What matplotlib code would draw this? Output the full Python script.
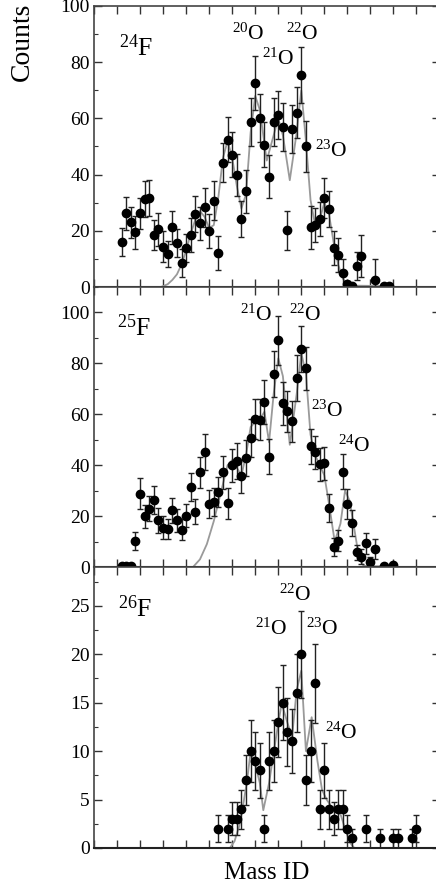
import matplotlib
matplotlib.use("Agg")
import matplotlib.pyplot as plt
from matplotlib.ticker import MultipleLocator, NullFormatter

plt.rcParams['font.family'] = ['Liberation Serif', 'DejaVu Serif']
plt.rcParams['mathtext.fontset'] = 'custom'
plt.rcParams['mathtext.rm'] = 'Liberation Serif'
plt.rcParams['mathtext.it'] = 'Liberation Serif:italic'

# ---- 24F ----
p1_x = [14.2, 14.4, 14.6, 14.8, 15.0, 15.2, 15.4, 15.6, 15.8, 16.0, 16.2, 16.4, 16.6, 16.8,
        17.0, 17.2, 17.4, 17.6, 17.8, 18.0, 18.2, 18.4, 18.6, 18.8, 19.0, 19.2, 19.4, 19.6,
        19.8, 20.0, 20.2, 20.4, 20.6, 20.8, 21.0, 21.2, 21.4, 21.6, 21.8, 22.0, 22.2, 22.4,
        22.6, 22.8, 23.0, 23.2, 23.4, 23.6, 23.8, 24.0, 24.2, 24.4, 24.6, 25.2, 25.6, 25.8]
p1_y = [16.1, 26.2, 23.0, 19.4, 26.2, 31.3, 31.7, 18.5, 20.5, 14.4, 11.7, 21.2, 15.6, 8.5,
        14.0, 18.5, 26.0, 22.6, 28.3, 20.0, 30.7, 12.0, 44.2, 52.4, 47.1, 40.0, 24.2, 34.0,
        58.7, 72.6, 60.1, 50.7, 39.3, 58.7, 61.3, 56.9, 20.2, 56.3, 62.0, 75.4, 50.1, 21.2,
        22.0, 24.2, 31.7, 27.7, 13.8, 11.4, 5.1, 1.0, 0.4, 7.5, 11.1, 2.5, 0.4, 0.5]
p1_e = [5, 6, 5.5, 6, 5.5, 6.5, 6.5, 5.5, 6, 5.5, 4.5, 6, 5, 5,
        5, 6, 6.5, 6, 7, 6, 7, 6, 7, 8, 8, 7.5, 6.5, 7.5,
        8.5, 9.5, 8.5, 8, 7.5, 8.5, 8.5, 8.5, 7, 8.5, 9, 10, 9, 7.5,
        6, 6, 7, 6.5, 6, 6, 5, 1, 0.4, 5, 7.5, 7.5, 0.4, 0.4]
p1_fx = [15.9, 16.0, 16.2, 16.4, 16.6, 16.8, 17.0, 17.2, 17.4, 17.6, 17.8, 18.0, 18.2, 18.4,
         18.6, 18.8, 19.0, 19.2, 19.4, 19.6, 19.8, 20.0, 20.2, 20.5, 20.8, 21.0, 21.2, 21.5,
         21.8, 22.0, 22.2, 22.4, 22.6, 22.8, 23.0, 23.2, 23.4, 23.6, 23.8, 24.0, 24.2, 25.0, 25.6]
p1_fy = [0, 0.3, 1, 2.5, 4.5, 8, 13, 19, 24, 27, 25, 21, 22, 32,
         46, 52, 46, 36, 28, 33, 55, 68, 63, 45, 54, 60, 54, 38,
         55, 70, 52, 31, 22, 24, 30, 26, 16, 8, 3, 1, 0.5, 0.4, 0.3]

# ---- 25F ----
p2_x = [14.2, 14.4, 14.6, 14.8, 15.0, 15.2, 15.4, 15.6, 15.8, 16.0, 16.2, 16.4, 16.6, 16.8,
        17.0, 17.2, 17.4, 17.6, 17.8, 18.0, 18.2, 18.4, 18.6, 18.8, 19.0, 19.2, 19.4, 19.6,
        19.8, 20.0, 20.2, 20.4, 20.6, 20.8, 21.0, 21.2, 21.4, 21.6, 21.8, 22.0, 22.2, 22.4,
        22.6, 22.8, 23.0, 23.2, 23.4, 23.6, 23.8, 24.0, 24.2, 24.4, 24.6, 24.8, 25.0, 25.2,
        25.6, 26.0]
p2_y = [0.4, 0.4, 0.4, 10.2, 28.8, 20.0, 22.9, 26.4, 18.3, 15.4, 15.0, 22.2, 18.3, 14.7,
        20.2, 31.3, 21.7, 37.2, 45.2, 24.9, 25.5, 29.4, 37.3, 25.0, 39.9, 41.7, 35.6, 42.8,
        50.7, 58.1, 57.9, 64.8, 43.4, 75.9, 89.0, 64.3, 61.1, 57.2, 74.3, 85.7, 78.0, 47.4,
        45.0, 40.4, 40.8, 23.1, 7.8, 10.4, 37.5, 24.7, 17.2, 5.8, 4.1, 9.3, 1.9, 7.1,
        0.5, 0.7]
p2_e = [0.3, 0.3, 0.3, 3.5, 6, 4.5, 5, 5.5, 5, 4.5, 4, 5, 4.5, 4,
        4.5, 5.5, 5, 6, 7, 5.5, 5.5, 6, 6.5, 6, 6.5, 7, 6.5, 7,
        7.5, 8, 8, 8.5, 7, 9, 9.7, 8.5, 8, 8, 9, 9, 8.5, 7,
        6.5, 6.5, 6.5, 5.5, 3.5, 4, 7, 6, 5, 3, 3, 4, 2, 4,
        0.5, 0.5]
p2_fx = [17.3, 17.6, 17.9, 18.2, 18.5, 18.8, 19.0, 19.2, 19.4, 19.6, 19.8, 20.0, 20.2, 20.4,
         20.6, 20.8, 21.0, 21.2, 21.5, 21.8, 22.0, 22.2, 22.4, 22.6, 22.8, 23.0, 23.2, 23.45,
         23.7, 23.9, 24.1, 24.3, 24.5, 24.7, 25.0, 26.0]
p2_fy = [0, 3, 9, 18, 29, 40, 42, 39, 36, 44, 55, 57, 58, 61,
         49, 68, 82, 75, 48, 68, 84, 76, 52, 44, 40, 36, 25, 10,
         17, 30, 26, 15, 4, 0.5, 0.3, 0.3]

# ---- 26F ----
p3_x = [18.4, 18.8, 19.0, 19.2, 19.4, 19.6, 19.8, 20.0, 20.2, 20.4, 20.6, 20.8, 21.0, 21.2,
        21.4, 21.6, 21.8, 22.0, 22.2, 22.4, 22.6, 22.8, 23.0, 23.2, 23.4, 23.6, 23.8, 24.0,
        24.2, 24.8, 25.4, 26.0, 26.2, 26.8, 27.0]
p3_y = [2, 2, 3, 3, 4, 7, 10, 9, 8, 2, 9, 10, 13, 15,
        12, 11, 16, 20, 7, 10, 17, 4, 8, 4, 3, 4, 4, 2,
        1, 2, 1, 1, 1, 1, 2]
p3_e = [1.4, 1.4, 1.7, 1.7, 2, 2.6, 3.2, 3, 2.8, 1.4, 3, 3.2, 3.6, 3.9,
        3.5, 3.3, 4, 4.5, 2.6, 3.2, 4.1, 2, 2.8, 2, 1.7, 2, 2, 1.4,
        1, 1.4, 1, 1, 1, 1, 1.4]
p3_fx = [18.9, 19.1, 19.3, 19.5, 19.65, 19.8, 20.0, 20.2, 20.35, 20.6, 20.8, 21.0, 21.15, 21.4,
         21.6, 21.8, 22.0, 22.2, 22.45, 22.7, 22.9, 23.1, 23.3, 23.5, 23.7, 23.9, 24.1, 24.3]
p3_fy = [0, 0.7, 2.2, 4.8, 7, 10, 8.7, 6.7, 3.9, 6.7, 9.8, 12.9, 14.9, 12.9,
         11.5, 16.3, 18.3, 10, 13.5, 9, 6, 5, 4.3, 4.2, 3.5, 2, 0.6, 0]

panels = [
    dict(x=p1_x, y=p1_y, e=p1_e, fx=p1_fx, fy=p1_fy, ymax=100, major=20, minor=10,
         nucleus=(r'$^{24}$F', 14.1, 82.2),
         peaks=[(r'$^{20}$O', 18.98, 88.1), (r'$^{21}$O', 20.28, 79.0),
                (r'$^{22}$O', 21.34, 88.1), (r'$^{23}$O', 22.6, 46.4)]),
    dict(x=p2_x, y=p2_y, e=p2_e, fx=p2_fx, fy=p2_fy, ymax=110, major=20, minor=10,
         nucleus=(r'$^{25}$F', 13.98, 90.7),
         peaks=[(r'$^{21}$O', 19.34, 96.6), (r'$^{22}$O', 21.48, 96.6),
                (r'$^{23}$O', 22.42, 59.2), (r'$^{24}$O', 23.58, 45.2)]),
    dict(x=p3_x, y=p3_y, e=p3_e, fx=p3_fx, fy=p3_fy, ymax=29, major=5, minor=2.5,
         nucleus=(r'$^{26}$F', 14.05, 23.8),
         peaks=[(r'$^{22}$O', 21.03, 25.5), (r'$^{21}$O', 20.0, 22.0),
                (r'$^{23}$O', 22.2, 22.0), (r'$^{24}$O', 23.03, 11.3)]),
]

fig = plt.figure(figsize=(4.36, 8.92), dpi=100)
W, H = 436.0, 892.0
edges = [6, 287, 567, 848]
left = 94 / W
width = 345.5 / W

for i, p in enumerate(panels):
    top, bot = edges[i], edges[i + 1]
    ax = fig.add_axes([left, (H - bot) / H, width, (bot - top) / H])
    ax.plot(p['fx'], p['fy'], color='#9a9a9a', lw=1.3, zorder=2)
    ax.errorbar(p['x'], p['y'], yerr=p['e'], fmt='o', color='black', ms=6,
                ecolor='#222222', elinewidth=1.0, capsize=2.5, capthick=1.0, zorder=3)
    ax.set_xlim(13, 28)
    ax.set_ylim(0, p['ymax'])
    ax.xaxis.set_major_locator(MultipleLocator(1))
    ax.xaxis.set_major_formatter(NullFormatter())
    ax.yaxis.set_major_locator(MultipleLocator(p['major']))
    ax.yaxis.set_minor_locator(MultipleLocator(p['minor']))
    ax.tick_params(which='both', direction='in', top=True, right=True, labelsize=14,
                   color='#333333', pad=3)
    ax.tick_params(which='major', length=6, width=1.0)
    ax.tick_params(which='minor', length=3, width=0.8)
    for s in ax.spines.values():
        s.set_color('#444444')
        s.set_linewidth(1.2)
    ax.spines['bottom'].set_color('#222222')
    ax.spines['bottom'].set_linewidth(1.5)

    txt, tx, ty = p['nucleus']
    ax.text(tx, ty, txt, fontsize=18.5, ha='left', va='baseline', zorder=4)
    for txt, tx, ty in p['peaks']:
        ax.text(tx, ty, txt, fontsize=15.5, ha='left', va='baseline', zorder=4)

fig.text(22 / W, 1 - 3 / H, 'Counts', rotation=90, ha='center', va='top', fontsize=20)
fig.text(267 / W, 1 - 873 / H, 'Mass ID', ha='center', va='center', fontsize=18)

fig.savefig('out.png', dpi=100)
